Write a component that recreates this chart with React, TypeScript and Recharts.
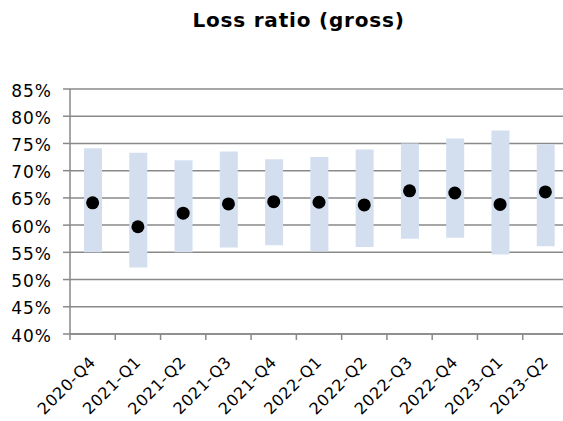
import { ComposedChart, Bar, Line, XAxis, YAxis, CartesianGrid } from 'recharts';

const quarters = [
  '2020-Q4', '2021-Q1', '2021-Q2', '2021-Q3', '2021-Q4', '2022-Q1',
  '2022-Q2', '2022-Q3', '2022-Q4', '2023-Q1', '2023-Q2',
];
const lowValues = [55.0, 52.2, 55.0, 55.9, 56.3, 55.2, 56.0, 57.5, 57.7, 54.6, 56.1];
const highValues = [74.1, 73.3, 71.9, 73.5, 72.1, 72.5, 73.9, 75.0, 75.9, 77.4, 74.8];
const pointValues = [64.1, 59.7, 62.2, 63.9, 64.3, 64.2, 63.7, 66.3, 65.9, 63.8, 66.1];
const yTicks = [40, 45, 50, 55, 60, 65, 70, 75, 80, 85];

const data = quarters.map((q, i) => ({
  quarter: q,
  range: [lowValues[i], highValues[i]],
  value: pointValues[i],
}));

const FONT = '"DejaVu Sans", Verdana, sans-serif';
const GRID = '#898989';
const CHART_W = 575;
const LEFT = 70;
const RIGHT_MARGIN = 7;
const HALF_BAND = (CHART_W - LEFT - RIGHT_MARGIN) / quarters.length / 2;

// category label at the centre, tick mark at the left edge of the band
function QuarterTick(props: any) {
  const { x, y, payload } = props;
  const ax = x + 4;
  const ay = y + 21;
  return (
    <g>
      <line x1={x - HALF_BAND} x2={x - HALF_BAND} y1={y - 8} y2={y - 2} stroke={GRID} strokeWidth={1.5} />
      <text
        x={ax}
        y={ay}
        textAnchor="end"
        fontSize={16}
        letterSpacing={0.6}
        fontFamily={FONT}
        fill="#000"
        transform={`rotate(-45 ${ax} ${ay})`}
      >
        {payload.value}
      </text>
    </g>
  );
}

export default function App() {
  return (
    <div style={{ position: 'absolute', left: 0, top: 0, width: CHART_W, height: 421, background: '#fff', overflow: 'hidden' }}>
      <div
        style={{
          position: 'absolute', left: 0, width: 597, top: 8, textAlign: 'center',
          fontFamily: FONT, fontWeight: 'bold', fontSize: 20, letterSpacing: 0.8, color: '#000',
        }}
      >
        Loss ratio (gross)
      </div>
      <ComposedChart
        width={CHART_W}
        height={421}
        data={data}
        margin={{ top: 89, right: RIGHT_MARGIN, bottom: 0, left: 0 }}
        barCategoryGap="30%"
      >
        <CartesianGrid vertical={false} stroke={GRID} strokeWidth={1.5} />
        <XAxis
          dataKey="quarter"
          height={87}
          interval={0}
          tickLine={false}
          axisLine={{ stroke: GRID, strokeWidth: 1.5 }}
          tick={<QuarterTick />}
        />
        <YAxis
          width={LEFT}
          domain={[40, 85]}
          ticks={yTicks}
          interval={0}
          tickFormatter={(v) => `${v}%`}
          tickSize={7}
          tickMargin={11}
          tickLine={{ stroke: GRID, strokeWidth: 1.5 }}
          axisLine={{ stroke: GRID, strokeWidth: 1.5 }}
          tick={{ fill: '#000', fontSize: 17, letterSpacing: 1, fontFamily: FONT, dy: 1.5 }}
        />
        <Bar dataKey="range" fill="#D3DFEF" barSize={18} isAnimationActive={false} />
        <Line
          dataKey="value"
          stroke="none"
          dot={{ r: 6.5, fill: '#000', stroke: 'none' }}
          activeDot={false}
          isAnimationActive={false}
        />
      </ComposedChart>
    </div>
  );
}
